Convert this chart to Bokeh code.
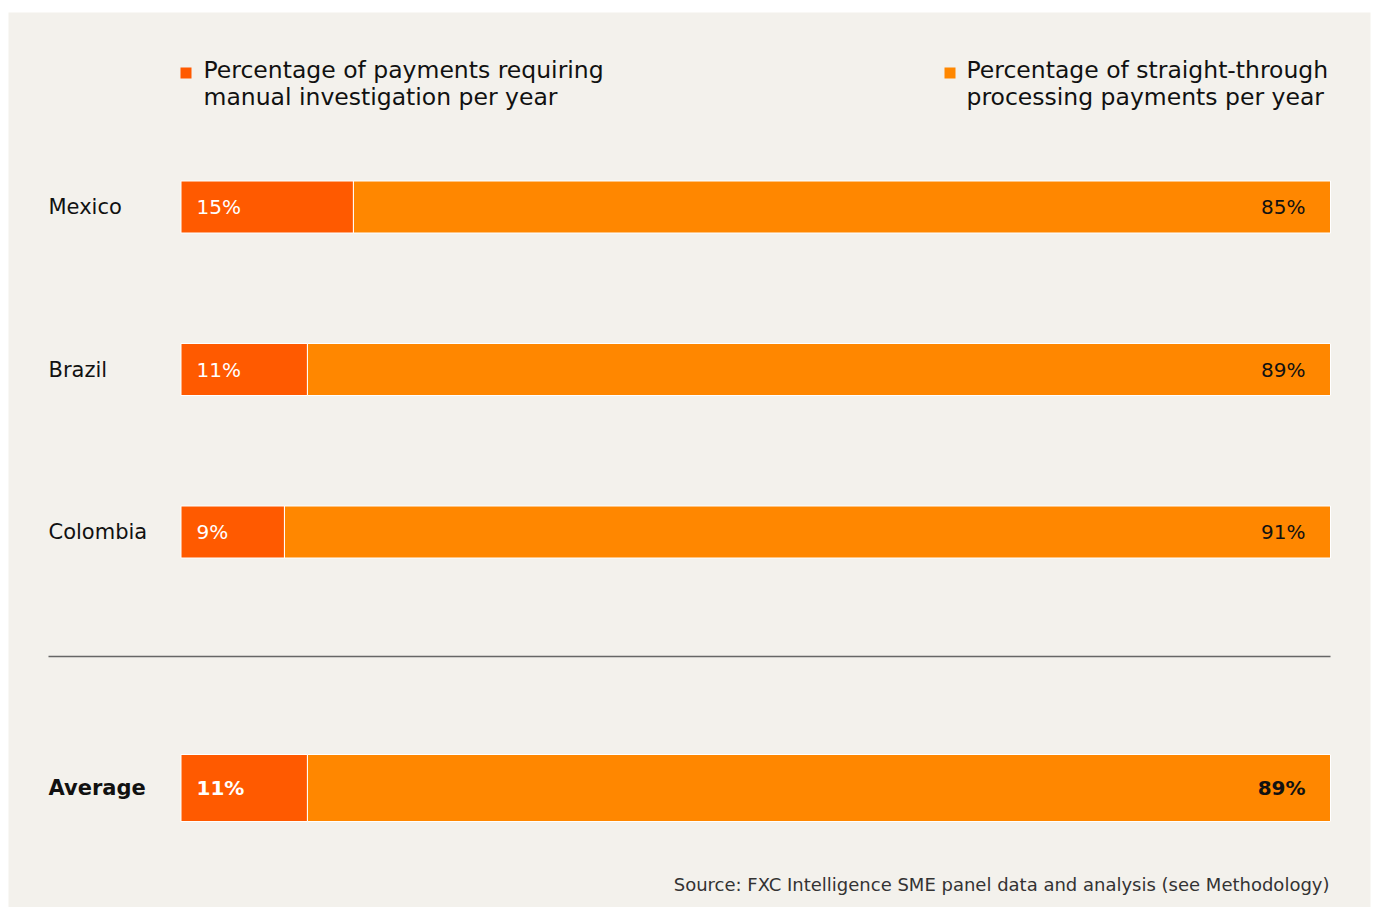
from bokeh.plotting import figure
from bokeh.models import ColumnDataSource, Range1d, Label
from bokeh.core.properties import value
from bokeh.embed import file_html
from bokeh.resources import INLINE

# ---- data ----
countries = ["Mexico", "Brazil", "Colombia", "Average"]
manual_pct = [15, 11, 9, 11]
stp_pct = [85, 89, 91, 89]
legend_manual = ["Percentage of payments requiring", "manual investigation per year"]
legend_stp = ["Percentage of straight-through", "processing payments per year"]
source_note = "Source: FXC Intelligence SME panel data and analysis (see Methodology)"

# ---- layout / style ----
W, H = 1375, 907
BG = "#F3F1EC"
C_MANUAL = "#FF5A00"
C_STP = "#FF8700"
FONT = "DejaVu Sans"
X0_PX, X100_PX = 180.5, 1330
SCALE = (X100_PX - X0_PX) / 100.0
FRAME_L, FRAME_R, FRAME_T = 8, 5, 12

def px(x):
    return (x - X0_PX) / SCALE

row_y = [206.5, 369, 531.5, 787.5]
row_h = [52, 52, 52, 67]

p = figure(width=W, height=H, output_backend="svg", toolbar_location=None,
           min_border_left=FRAME_L, min_border_right=FRAME_R,
           min_border_top=FRAME_T, min_border_bottom=0,
           x_range=Range1d(px(FRAME_L), px(W - FRAME_R)),
           y_range=Range1d(H, FRAME_T))
p.background_fill_color = BG
p.border_fill_color = "white"
p.outline_line_color = None
p.axis.visible = False
p.grid.visible = False

left = [0] * len(countries)
mid = manual_pct
right = [m + s for m, s in zip(manual_pct, stp_pct)]

src = ColumnDataSource(dict(
    y=row_y, h=row_h, left=left, mid=mid, right=right,
    country=countries,
    mlab=[f"{v}%" for v in manual_pct],
    slab=[f"{v}%" for v in stp_pct],
    lx=[px(48)] * len(countries),
    mx=[px(196)] * len(countries),
    sx=[px(1305)] * len(countries),
    weight=["normal", "normal", "normal", "bold"],
))

p.hbar(y="y", height="h", left="left", right="mid", source=src,
       fill_color=C_MANUAL, line_color="white", line_width=1)
p.hbar(y="y", height="h", left="mid", right="right", source=src,
       fill_color=C_STP, line_color="white", line_width=1)

p.text(x="lx", y="y", text="country", source=src, text_font=value(FONT),
       text_font_size="21px", text_font_style="weight", text_color="#111111",
       text_baseline="middle", text_align="left")
p.text(x="mx", y="y", text="mlab", source=src, text_font=value(FONT),
       text_font_size="20px", text_font_style="weight", text_color="white",
       text_baseline="middle", text_align="left")
p.text(x="sx", y="y", text="slab", source=src, text_font=value(FONT),
       text_font_size="20px", text_font_style="weight", text_color="#111111",
       text_baseline="middle", text_align="right")

# separator line
p.segment(x0=[px(48)], x1=[px(1330)], y0=[656], y1=[656],
          line_color="#666666", line_width=1.5)

# legend
p.rect(x=[px(185.5), px(949.5)], y=[72.5, 72.5], width=11, height=11,
       width_units="screen", height_units="screen",
       fill_color=[C_MANUAL, C_STP], line_color=None)
for i, line in enumerate(legend_manual):
    p.add_layout(Label(x=px(203), y=69.5 + 27 * i, text=line, text_font=FONT,
                       text_font_size="23.5px", text_color="#111111",
                       text_baseline="middle", text_align="left"))
for i, line in enumerate(legend_stp):
    p.add_layout(Label(x=px(966), y=69.5 + 27 * i, text=line, text_font=FONT,
                       text_font_size="23.5px", text_color="#111111",
                       text_baseline="middle", text_align="left"))

p.add_layout(Label(x=px(1329), y=884, text=source_note, text_font=FONT,
                   text_font_size="18px", text_color="#333333",
                   text_baseline="middle", text_align="right"))

open("out.html", "w").write(file_html(p, INLINE))
